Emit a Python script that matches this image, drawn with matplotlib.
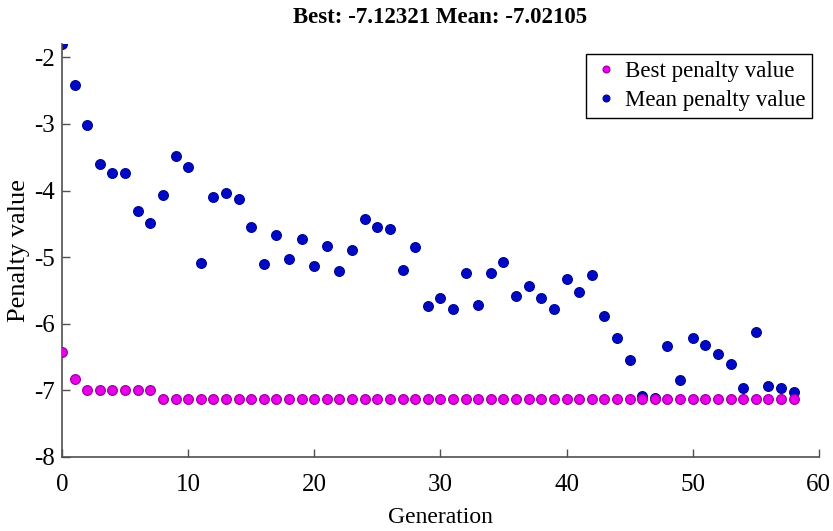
import matplotlib.pyplot as plt
import numpy as np

# generation index
generations = np.arange(0, 59)

# best penalty value per generation
best_penalty = [-6.42, -6.83, -6.99, -6.99, -6.99, -6.99, -6.99, -6.99] + [-7.12321] * 51

# mean penalty value per generation
mean_penalty = [
    -1.80, -2.41, -3.01, -3.60, -3.74, -3.74, -4.31, -4.48, -4.06, -3.48,
    -3.64, -5.08, -4.10, -4.04, -4.12, -4.55, -5.10, -4.67, -5.02, -4.73,
    -5.13, -4.83, -5.20, -4.89, -4.42, -4.55, -4.57, -5.19, -4.85, -5.74,
    -5.61, -5.78, -5.23, -5.72, -5.24, -5.07, -5.58, -5.44, -5.62, -5.78,
    -5.33, -5.53, -5.27, -5.89, -6.21, -6.54, -7.08, -7.12, -6.34, -6.85,
    -6.22, -6.32, -6.45, -6.61, -6.96, -6.13, -6.94, -6.97, -7.02105,
]

plt.rcParams["font.family"] = ["Liberation Serif", "DejaVu Serif"]
plt.rcParams["axes.unicode_minus"] = False

fig = plt.figure(figsize=(8.33, 5.31), dpi=100)
ax = fig.add_axes([0.0744, 0.1394, 0.9086, 0.7776])

ax.plot(generations, best_penalty, "o", color="#e800e8", markeredgecolor="#a000a8",
        markeredgewidth=0.9, markersize=7, label="Best penalty value", zorder=3)
ax.plot(generations, mean_penalty, "o", color="#0008c8", markeredgecolor="#000890",
        markeredgewidth=0.9, markersize=7, label="Mean penalty value", zorder=2)

ax.set_xlim(0, 60)
ax.set_ylim(-8, -1.8)
ax.set_xticks(np.arange(0, 61, 10))
ax.set_yticks(np.arange(-8, -1, 1))

for side in ("top", "right"):
    ax.spines[side].set_visible(False)
for side in ("left", "bottom"):
    ax.spines[side].set_color("#505050")
    ax.spines[side].set_linewidth(1.2)

ax.tick_params(direction="in", length=6, width=1, color="#505050", labelsize=18)
ax.tick_params(axis="x", pad=12)
ax.tick_params(axis="y", pad=5)

ax.set_xlabel("Generation", fontsize=17, labelpad=8)
ax.set_ylabel("Penalty value", fontsize=19, labelpad=3)
ax.set_title("Best: -7.12321 Mean: -7.02105", fontsize=16.5, fontweight="bold", pad=15)

leg = ax.legend(loc="upper right", bbox_to_anchor=(0.975, 0.898),
                bbox_transform=fig.transFigure, fontsize=16.5,
                markerscale=0.7, handletextpad=0.2, handlelength=1.2,
                borderpad=0.3, labelspacing=0.35, borderaxespad=0,
                fancybox=False, framealpha=1)
leg.get_frame().set_edgecolor("black")
leg.get_frame().set_linewidth(1.0)

fig.savefig("out.png", dpi=100)
